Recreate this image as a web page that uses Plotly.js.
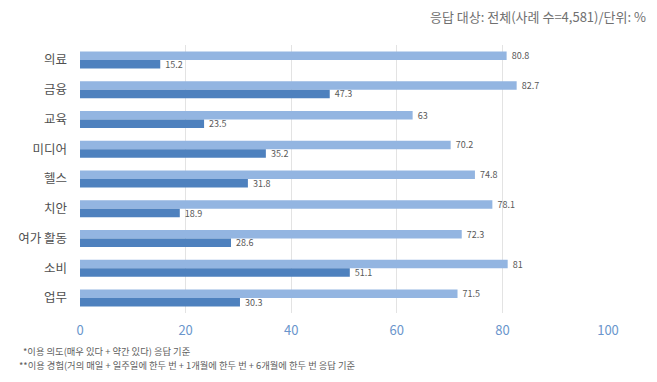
<!DOCTYPE html>
<html><head><meta charset="utf-8">
<script src="https://cdn.plot.ly/plotly-3.0.1.min.js"></script>
<style>html,body{margin:0;padding:0;background:#fff}#c{width:657px;height:382px}</style>
</head><body><div id="c"></div>
<script>
const categories = ['의료','금융','교육','미디어','헬스','치안','여가 활동','소비','업무'];
const intention = [80.8, 82.7, 63, 70.2, 74.8, 78.1, 72.3, 81, 71.5];
const experience = [15.2, 47.3, 23.5, 35.2, 31.8, 18.9, 28.6, 51.1, 30.3];
const xTicks = [0, 20, 40, 60, 80, 100];

const W = 657, H = 382;
const m = {l: 80, r: 49, t: 45, b: 69};
const pw = W - m.l - m.r, ph = H - m.t - m.b;
const px = x => (x - m.l) / pw;
const py = y => (H - m.b - y) / ph;
const font = '"Noto Sans CJK KR", "Noto Sans", sans-serif';

const traces = [
  {type: 'bar', orientation: 'h', name: '이용 의도', y: categories, x: intention,
   marker: {color: '#93B5E1'}, text: intention.map(v => ' ' + v), textposition: 'outside',
   constraintext: 'none',
   textfont: {size: 9, color: '#595959', family: font}, cliponaxis: false},
  {type: 'bar', orientation: 'h', name: '이용 경험', y: categories, x: experience,
   marker: {color: '#4E81BE'}, text: experience.map(v => ' ' + v), textposition: 'outside',
   constraintext: 'none',
   textfont: {size: 9, color: '#595959', family: font}, cliponaxis: false}
];

const layout = {
  width: W, height: H, margin: m, showlegend: false,
  paper_bgcolor: '#fff', plot_bgcolor: '#fff',
  barmode: 'group', bargap: 0.43, bargroupgap: 0,
  font: {family: font},
  xaxis: {range: [0, 100], tickvals: xTicks, ticktext: xTicks.map(String),
    showgrid: true, gridcolor: '#E3E3E3', gridwidth: 1, zeroline: false,
    showline: false, ticks: '', ticklabelstandoff: 8,
    tickfont: {size: 13, color: '#6A95CC', family: font}},
  yaxis: {autorange: 'reversed', showgrid: false, showline: false, ticks: '',
    ticklabelstandoff: 12, tickfont: {size: 12.5, color: '#505050', family: font}},
  annotations: [
    {xref: 'paper', yref: 'paper', x: px(648), y: py(17), xanchor: 'right', yanchor: 'middle',
     text: '응답 대상: 전체(사례 수=4,581)/단위: %', showarrow: false,
     font: {size: 13, color: '#707070', family: font}},
    {xref: 'paper', yref: 'paper', x: px(22), y: py(351), xanchor: 'left', yanchor: 'middle',
     text: '*이용 의도(매우 있다 + 약간 있다) 응답 기준', showarrow: false, borderpad: 0,
     font: {size: 9.3, color: '#606060', family: font}},
    {xref: 'paper', yref: 'paper', x: px(18), y: py(365), xanchor: 'left', yanchor: 'middle',
     text: '**이용 경험(거의 매일 + 일주일에 한두 번 + 1개월에 한두 번 + 6개월에 한두 번 응답 기준', showarrow: false, borderpad: 0,
     font: {size: 9.3, color: '#606060', family: font}}
  ]
};
Plotly.newPlot('c', traces, layout, {displayModeBar: false, staticPlot: true});
</script></body></html>
